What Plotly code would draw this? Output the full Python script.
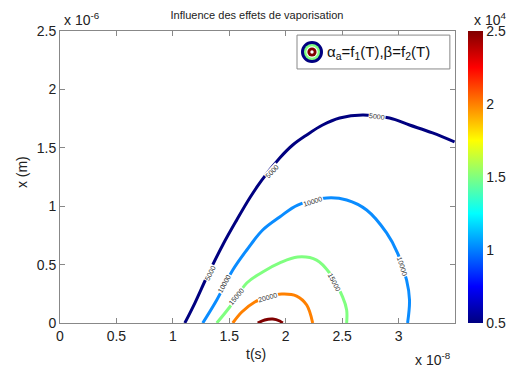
import plotly.graph_objects as go

# Contour lines.
# t in units of 1e-8 s, x in units of 1e-6 m
levels = [5000, 10000, 15000, 20000, 25000]

t_5000 = [1.106, 1.195, 1.301, 1.442, 1.566, 1.681, 1.788, 1.947, 2.062, 2.186,
          2.327, 2.478, 2.681, 2.920, 3.097, 3.301, 3.496]
x_5000 = [0.000, 0.171, 0.394, 0.668, 0.882, 1.070, 1.224, 1.413, 1.524, 1.610,
          1.695, 1.755, 1.781, 1.755, 1.695, 1.627, 1.550]

t_10000 = [1.265, 1.389, 1.531, 1.655, 1.796, 1.947, 2.106, 2.363, 2.540, 2.717,
           2.894, 2.991, 3.071, 3.097, 3.080]
x_10000 = [0.000, 0.197, 0.454, 0.625, 0.796, 0.908, 1.010, 1.070, 1.053, 0.967,
           0.771, 0.599, 0.368, 0.197, 0.000]

t_15000 = [1.389, 1.504, 1.655, 1.796, 1.947, 2.106, 2.274, 2.389, 2.504, 2.540, 2.540]
x_15000 = [0.000, 0.137, 0.342, 0.437, 0.514, 0.565, 0.539, 0.428, 0.223, 0.111, 0.000]

t_20000 = [1.531, 1.611, 1.726, 1.841, 1.965, 2.097, 2.186, 2.239]
x_20000 = [0.000, 0.094, 0.180, 0.223, 0.248, 0.231, 0.154, 0.000]

t_25000 = [1.752, 1.814, 1.885, 1.947, 1.973]
x_25000 = [0.000, 0.026, 0.034, 0.017, 0.000]

# inline contour labels: (t, x, angle)
labels_5000 = [(1.327, 0.428, -64), (1.876, 1.301, -47), (2.805, 1.764, 7)]
labels_10000 = [(1.460, 0.334, -61), (2.239, 1.040, -18), (3.035, 0.488, 72)]
labels_15000 = [(1.566, 0.223, -50), (2.434, 0.351, 63)]
labels_20000 = [(1.841, 0.219, -16)]

x_ticks = [0, 0.5, 1, 1.5, 2, 2.5, 3]
x_ticklabels = ["0", "0.5", "1", "1.5", "2", "2.5", "3"]
y_ticks = [0, 0.5, 1, 1.5, 2, 2.5]
y_ticklabels = ["0", "0.5", "1", "1.5", "2", "2.5"]
cb_ticks = [5000, 10000, 15000, 20000, 25000]
cb_ticklabels = ["0.5", "1", "1.5", "2", "2.5"]

title_text = "Influence des effets de vaporisation"
legend_text = "α<sub>a</sub>=f<sub>1</sub>(T),β=f<sub>2</sub>(T)"

jet = [[0.0, "#000080"], [0.125, "#0000FF"], [0.375, "#00FFFF"],
       [0.625, "#FFFF00"], [0.875, "#FF0000"], [1.0, "#800000"]]
level_colors = {5000: "#000080", 10000: "#0A8CFF", 15000: "#80FF80",
                20000: "#FF8000", 25000: "#800000"}

curves = {5000: (t_5000, x_5000), 10000: (t_10000, x_10000),
          15000: (t_15000, x_15000), 20000: (t_20000, x_20000),
          25000: (t_25000, x_25000)}
labels = {5000: labels_5000, 10000: labels_10000, 15000: labels_15000,
          20000: labels_20000}

FONT = "Liberation Sans, Arial, sans-serif"
fig = go.Figure()
for lev in levels:
    tt, xx = curves[lev]
    fig.add_trace(go.Scatter(x=tt, y=xx, mode="lines", line=dict(color=level_colors[lev], width=3,
                             shape="spline", smoothing=1.0), showlegend=False, hoverinfo="skip"))

# colorbar carrier
fig.add_trace(go.Scatter(x=[0, 0], y=[-5, -5], mode="markers",
                         marker=dict(color=[levels[0], levels[-1]], colorscale=jet, cmin=5000, cmax=25000,
                                     size=1, showscale=True,
                                     colorbar=dict(x=1.033, xanchor="left", xref="paper", thickness=15,
                                                   lenmode="pixels", len=292, y=0.5, yanchor="middle",
                                                   ypad=0, xpad=0, outlinewidth=0, ticks="",
                                                   tickvals=cb_ticks, ticktext=cb_ticklabels,
                                                   tickfont=dict(family=FONT, size=14, color="#222"))),
                         showlegend=False, hoverinfo="skip"))

annotations = []
for lev, labs in labels.items():
    for (lt, lx, ang) in labs:
        annotations.append(dict(x=lt, y=lx, xref="x", yref="y", text=str(lev), showarrow=False,
                                textangle=ang, font=dict(family=FONT, size=7, color="#333"),
                                bgcolor="white", borderpad=0))

annotations += [
    dict(text="x 10<sup>-6</sup>", xref="paper", yref="paper", x=0.005, y=1.003, xanchor="left",
         yanchor="bottom", showarrow=False, font=dict(family=FONT, size=14, color="#222")),
    dict(text="x 10<sup>-8</sup>", xref="paper", yref="paper", x=0.894, y=-0.122, xanchor="left",
         yanchor="middle", showarrow=False, font=dict(family=FONT, size=14, color="#222")),
    dict(text="x 10<sup>4</sup>", xref="paper", yref="paper", x=1.043, y=1.003, xanchor="left",
         yanchor="bottom", showarrow=False, font=dict(family=FONT, size=14, color="#222")),
    dict(text="t(s)", xref="paper", yref="paper", x=0.496, y=-0.106, xanchor="center",
         yanchor="middle", showarrow=False, font=dict(family=FONT, size=14, color="#222")),
    dict(text="x (m)", xref="paper", yref="paper", x=-0.096, y=0.517, xanchor="center",
         yanchor="middle", textangle=-90, showarrow=False, font=dict(family=FONT, size=14, color="#222")),
    dict(text=legend_text, xref="paper", yref="paper", x=(325 - 60) / 395, y=0.928, xanchor="left",
         yanchor="middle", showarrow=False, font=dict(family=FONT, size=15, color="#111")),
]

shapes = [dict(type="rect", xref="paper", yref="paper", x0=0.6, x1=0.987, y0=0.870, y1=0.986,
               fillcolor="white", line=dict(color="#888", width=1), layer="above")]
icon_x, icon_y = (312 - 60) / 395, 0.928
for r, col in [(11, "#000080"), (8, "#80FF80"), (5.7, "white"), (4.6, "#800000"), (1.7, "white")]:
    shapes.append(dict(type="circle", xref="paper", yref="paper", xsizemode="pixel", ysizemode="pixel",
                       xanchor=icon_x, yanchor=icon_y, x0=-r, x1=r, y0=-r, y1=r,
                       fillcolor=col, line=dict(width=0), layer="above"))

axis_common = dict(showgrid=False, zeroline=False, showline=True, linecolor="#888", linewidth=1,
                   mirror="ticks", ticks="inside", ticklen=5, tickcolor="#888",
                   tickfont=dict(family=FONT, size=14, color="#222"))
fig.update_layout(
    width=525, height=369, margin=dict(l=60, r=70, t=31, b=46),
    paper_bgcolor="white", plot_bgcolor="white",
    title=dict(text=title_text, x=(257 - 60) / 395, xref="paper", xanchor="center",
               y=1 - 15 / 369, yanchor="middle", font=dict(family=FONT, size=11, color="#222")),
    xaxis=dict(range=[0, 3.5], tickvals=x_ticks, ticktext=x_ticklabels, **axis_common),
    yaxis=dict(range=[0, 2.5], tickvals=y_ticks, ticktext=y_ticklabels, **axis_common),
    annotations=annotations, shapes=shapes, showlegend=False,
)
fig.write_html("out.html")
